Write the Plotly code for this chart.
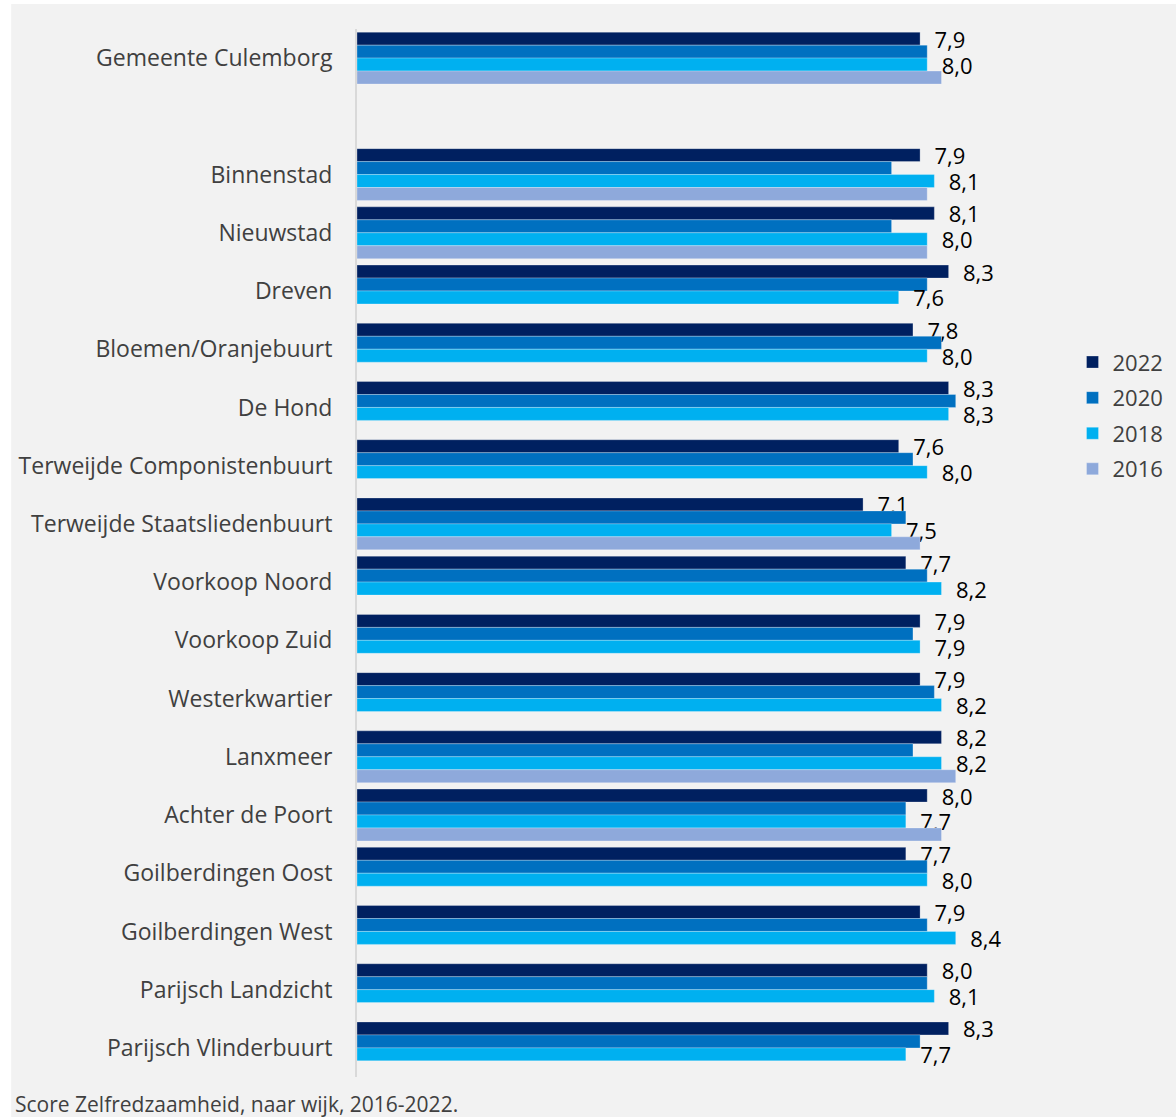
import plotly.graph_objects as go

categories = [
    "Gemeente Culemborg", " ", "Binnenstad", "Nieuwstad", "Dreven",
    "Bloemen/Oranjebuurt", "De Hond", "Terweijde Componistenbuurt",
    "Terweijde Staatsliedenbuurt", "Voorkoop Noord", "Voorkoop Zuid",
    "Westerkwartier", "Lanxmeer", "Achter de Poort", "Goilberdingen Oost",
    "Goilberdingen West", "Parijsch Landzicht", "Parijsch Vlinderbuurt",
]
v2022 = [7.9, None, 7.9, 8.1, 8.3, 7.8, 8.3, 7.6, 7.1, 7.7, 7.9, 7.9, 8.2, 8.0, 7.7, 7.9, 8.0, 8.3]
v2020 = [8.0, None, 7.5, 7.5, 8.0, 8.2, 8.4, 7.8, 7.7, 8.0, 7.8, 8.1, 7.8, 7.7, 8.0, 8.0, 8.0, 7.9]
v2018 = [8.0, None, 8.1, 8.0, 7.6, 8.0, 8.3, 8.0, 7.5, 8.2, 7.9, 8.2, 8.2, 7.7, 8.0, 8.4, 8.1, 7.7]
v2016 = [8.2, None, 8.0, 8.0, None, None, None, None, 7.9, None, None, None, 8.4, 8.2, None, None, None, None]

series = [
    ("2022", v2022, "#002060", True),
    ("2020", v2020, "#0070C0", False),
    ("2018", v2018, "#00B0F0", True),
    ("2016", v2016, "#8EA9DB", False),
]

FONT = "Open Sans"
W, H = 1176, 1117
L, R, T, B = 357, 107, 29, 40

def fmt(v):
    if v is None:
        return ""
    return "\u00a0\u00a0" + f"{v:.1f}".replace(".", ",")

fig = go.Figure()
for name, vals, color, labeled in series:
    fig.add_trace(go.Bar(
        name=name, y=categories, x=vals, orientation="h",
        marker=dict(color=color, line=dict(color="rgba(255,255,255,0.45)", width=0.6)),
        text=[fmt(v) for v in vals] if labeled else None,
        textposition="outside" if labeled else "none",
        textfont=dict(family=FONT, size=22, color="#000000"),
        constraintext="none", cliponaxis=False,
        legendgroup=name,
    ))

fig.update_layout(
    width=W, height=H,
    margin=dict(l=L, r=R, t=T, b=B),
    paper_bgcolor="#FFFFFF", plot_bgcolor="rgba(0,0,0,0)",
    barmode="group", bargap=0.11, bargroupgap=0,
    font=dict(family=FONT, color="#404040"),
    showlegend=True,
    legend=dict(
        xref="container", yref="container", x=0.912, y=0.6945,
        xanchor="left", yanchor="top",
        font=dict(family=FONT, size=22, color="#404040"),
        bgcolor="rgba(0,0,0,0)", tracegroupgap=4,
        traceorder="grouped",
    ),
    xaxis=dict(range=[0, 9.87], visible=False, fixedrange=True),
    yaxis=dict(
        type="category", autorange="reversed",
        showline=True, linecolor="#D9D9D9", linewidth=2,
        showgrid=False, zeroline=False, ticks="",
        ticklabelstandoff=18,
        tickfont=dict(family=FONT, size=23, color="#404040"),
    ),
    title=dict(
        text="Score Zelfredzaamheid, naar wijk, 2016-2022.",
        xref="container", yref="container",
        x=15 / W, y=1 - 1105 / H, xanchor="left", yanchor="middle",
        font=dict(family=FONT, size=21, color="#404040"),
    ),
    shapes=[dict(
        type="rect", xref="paper", yref="paper", layer="below",
        x0=(7 - L) / (W - L - R), x1=2.0,
        y0=-1.0, y1=(H - B - 4) / (H - T - B),
        fillcolor="#F2F2F2", line=dict(width=0),
    )],
)

fig.write_html(
    "out.html",
    config={"displayModeBar": False},
    post_script="document.body.style.margin='0';document.body.style.overflow='hidden';",
)
